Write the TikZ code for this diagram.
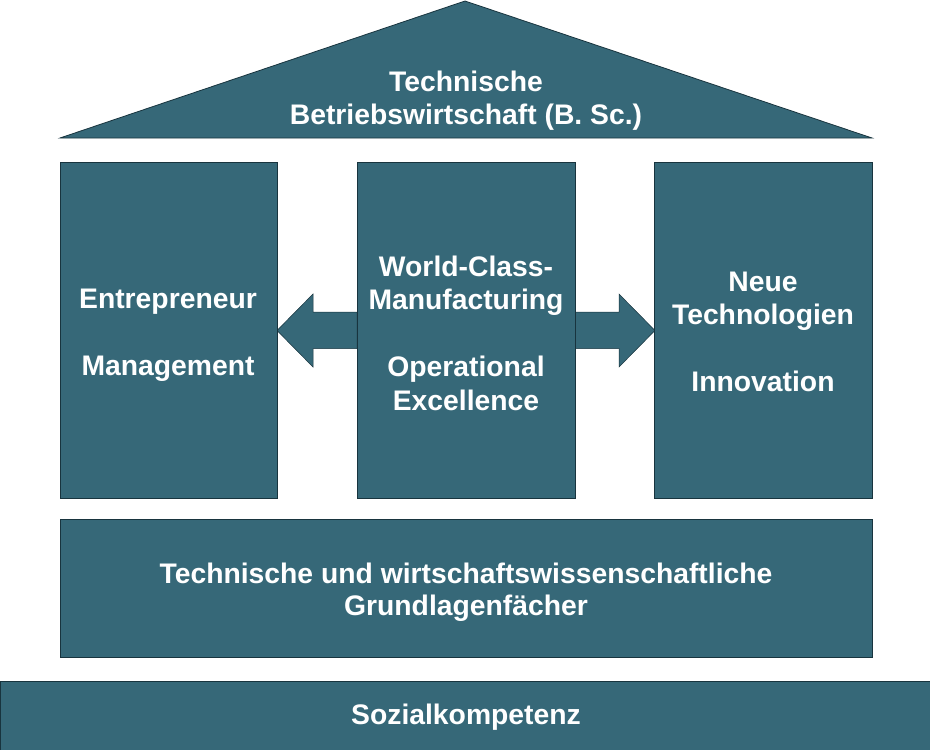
\documentclass[tikz,border=0pt]{standalone}
\usepackage{fontspec}
\setmainfont{Liberation Sans}
\definecolor{tbw}{RGB}{54,104,120}
\definecolor{tbwline}{RGB}{24,52,62}
\begin{document}
\begin{tikzpicture}[x=1pt,y=-1pt,
  block/.style={draw=tbwline,line width=0.8pt,fill=tbw,inner sep=0pt,anchor=north west},
  arrowshape/.style={draw=tbwline,line width=0.5pt,fill=tbw},
  lbl/.style={text=white,font=\bfseries\fontsize{28.3}{33.5}\selectfont,align=center,inner sep=0pt}]
\useasboundingbox (0,0) rectangle (930,750);
% roof
\draw[draw=tbwline,fill=tbw,line width=0.8pt] (60,138) -- (465,1) -- (872,138) -- cycle;
\node[lbl,font=\bfseries\fontsize{28.3}{33}\selectfont] (title) at (466,101) {Technische\\Betriebswirtschaft (B. Sc.)};
% arrows (drawn first, below the pillars)
\draw[arrowshape] (357,312) -- (313,312) -- (313,294) -- (277,330.5) -- (313,367) -- (313,348.5) -- (357,348.5) -- cycle;
\draw[arrowshape] (575,312) -- (619,312) -- (619,294) -- (655,330.5) -- (619,367) -- (619,348.5) -- (575,348.5) -- cycle;
% pillars
\node[block,minimum width=217pt,minimum height=336pt] (left) at (60,162) {};
\node[block,minimum width=218pt,minimum height=336pt] (mid) at (357,162) {};
\node[block,minimum width=218pt,minimum height=336pt] (right) at (654,162) {};
% foundation and base
\node[block,minimum width=812pt,minimum height=138pt] (found) at (60,519) {};
\node[block,minimum width=931pt,minimum height=70pt] (base) at (-0.5,681) {};
% labels
\node[lbl] (ltext) at (168,335) {Entrepreneur\\[33.5pt]Management};
\node[lbl] (mtext) at (466,333) {World-Class-\\Manufacturing\\[33.5pt]Operational\\Excellence};
\node[lbl] (rtext) at (763,332) {Neue\\Technologien\\[33.5pt]Innovation};
\node[lbl,font=\bfseries\fontsize{28.3}{32}\selectfont] (ftext) at (466,592) {Technische und wirtschaftswissenschaftliche\\Grundlagenfächer};
\node[lbl] (btext) at (466,717) {Sozialkompetenz};
\end{tikzpicture}
\end{document}
